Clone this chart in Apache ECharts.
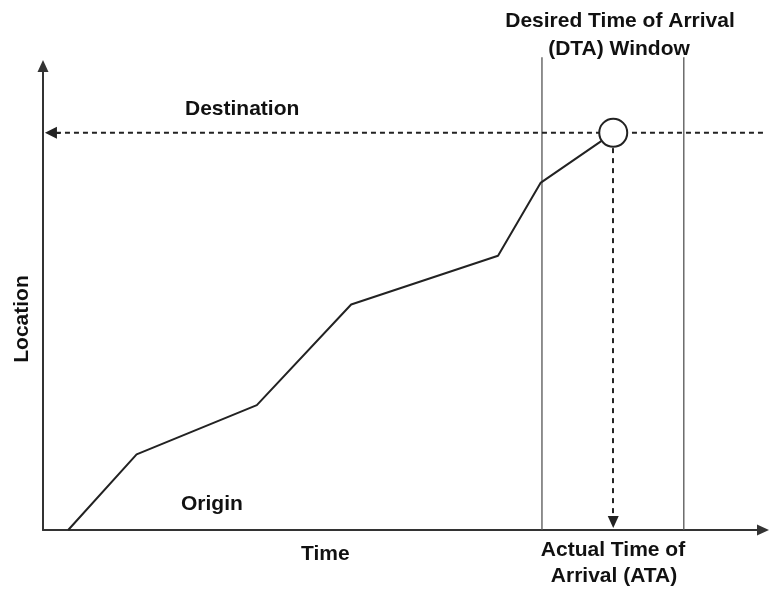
<!DOCTYPE html>
<html>
<head>
<meta charset="utf-8">
<script src="https://cdn.jsdelivr.net/npm/echarts@6/dist/echarts.min.js"></script>
<style>html,body{margin:0;padding:0;background:#fff}#c{width:771px;height:592px}</style>
</head>
<body>
<div id="c"></div>
<script>
// Trajectory: time (x, 0-100) vs location (y, 0-100)
var pathTime     = [3.5, 13.0, 29.7, 42.8, 63.2, 69.1, 79.2];
var pathLocation = [0,   16.3, 26.9, 48.6, 59.1, 74.8, 85.6];
var destination  = 85.6;         // destination location level
var ataTime      = 79.2;         // actual time of arrival
var dtaWindow    = [69.3, 89.0]; // desired time of arrival window
var windowTop    = 101.9;        // window lines reach slightly above the axis top
var labels = {
  dest: 'Destination', origin: 'Origin', xName: 'Time', yName: 'Location',
  dta: ['Desired Time of Arrival', '(DTA) Window'],
  ata: ['Actual Time of', 'Arrival (ATA)']
};

var pathData = pathTime.map(function (t, i) { return [t, pathLocation[i]]; });
var FONT = '"Liberation Sans", Arial, sans-serif';
var TXT = 'bold 21px ' + FONT;
var chart = echarts.init(document.getElementById('c'), null, {renderer: 'canvas'});
var axisLine = {show: true, symbol: ['none', 'triangle'], symbolSize: [11, 12], lineStyle: {color: '#333', width: 2}};
function vline(x) {
  return {type: 'line', data: [[x, 0], [x, windowTop]], symbol: 'none', clip: false, z: 1,
          lineStyle: {color: '#555', width: 1.3}, silent: true};
}
chart.setOption({
  animation: false,
  backgroundColor: '#fff',
  grid: {left: 43, right: 8, top: 66, bottom: 62},
  xAxis: {type: 'value', min: 0, max: 100, axisLine: axisLine, axisTick: {show: false}, axisLabel: {show: false}, splitLine: {show: false}},
  yAxis: {type: 'value', min: 0, max: 100, axisLine: axisLine, axisTick: {show: false}, axisLabel: {show: false}, splitLine: {show: false}},
  series: [
    vline(dtaWindow[0]),
    vline(dtaWindow[1]),
    {
      // destination dashed level
      type: 'line', data: [[1.8, destination], [101.4, destination]], symbol: 'none', clip: false, z: 1, silent: true,
      lineStyle: {color: '#222', width: 2, type: [5, 4]},
      markLine: {
        silent: true, animation: false, label: {show: false},
        data: [
          [{coord: [2.4, destination], symbol: 'none', lineStyle: {type: 'solid', color: '#222', width: 2}},
           {coord: [1.1, destination], symbol: 'triangle', symbolSize: [12, 12]}],
          [{coord: [ataTime, 82.3], symbol: 'none', lineStyle: {type: [5, 5], color: '#222', width: 2}},
           {coord: [ataTime, 1.7], symbol: 'triangle', symbolSize: [11, 12]}]
        ]
      }
    },
    {
      type: 'line', data: pathData, symbol: 'none', clip: false, z: 2,
      lineStyle: {color: '#222', width: 2}
    },
    {
      type: 'scatter', data: [[ataTime, destination]], symbol: 'circle', symbolSize: 28, z: 3,
      itemStyle: {color: '#fff', borderColor: '#222', borderWidth: 2, opacity: 1}
    }
  ],
  graphic: [
    {type: 'text', left: 185, top: 99, style: {text: labels.dest, font: TXT, fill: '#111'}},
    {type: 'text', left: 181, top: 494, style: {text: labels.origin, font: TXT, fill: '#111'}},
    {type: 'text', left: 301, top: 544, style: {text: labels.xName, font: TXT, fill: '#111'}},
    {type: 'text', x: 22, y: 319, rotation: Math.PI / 2, style: {text: labels.yName, font: TXT, fill: '#111', align: 'center', verticalAlign: 'middle'}},
    {type: 'text', x: 620, y: 21, style: {text: labels.dta[0], font: TXT, fill: '#111', align: 'center', verticalAlign: 'middle'}},
    {type: 'text', x: 619, y: 49, style: {text: labels.dta[1], font: TXT, fill: '#111', align: 'center', verticalAlign: 'middle'}},
    {type: 'text', x: 613, y: 550, style: {text: labels.ata[0], font: TXT, fill: '#111', align: 'center', verticalAlign: 'middle'}},
    {type: 'text', x: 614, y: 576, style: {text: labels.ata[1], font: TXT, fill: '#111', align: 'center', verticalAlign: 'middle'}}
  ]
});
</script>
</body>
</html>
